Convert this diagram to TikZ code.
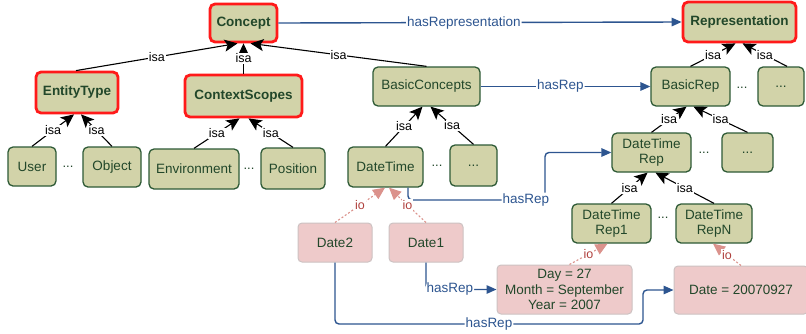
\documentclass[tikz,border=0pt]{standalone}
\usepackage{fontspec}
\setmainfont{Liberation Sans}
\usetikzlibrary{arrows.meta}
\definecolor{boxfill}{HTML}{D2D3A9}
\definecolor{boxline}{HTML}{2E5A36}
\definecolor{txtgreen}{HTML}{22472A}
\definecolor{keyred}{HTML}{FF1A1A}
\definecolor{pinkfill}{HTML}{EECACA}
\definecolor{pinkline}{HTML}{CDC2C2}
\definecolor{repblue}{HTML}{2D5590}
\definecolor{iosalmon}{HTML}{DB928C}
\definecolor{iotext}{HTML}{B0413E}
\tikzset{
  box/.style={draw=boxline, fill=boxfill, line width=1.3pt, rounded corners=5pt,
    text=txtgreen, font=\fontsize{13.5}{15.5}\selectfont, align=center, inner sep=0pt},
  keybox/.style={box, draw=keyred, line width=2.8pt, font=\fontsize{13.5}{15.5}\selectfont\bfseries},
  inst/.style={draw=pinkline, fill=pinkfill, line width=1pt, rounded corners=4pt,
    text=txtgreen, font=\fontsize{13.5}{15.5}\selectfont, align=center, inner sep=0pt},
  dots/.style={text=txtgreen, font=\fontsize{13}{15}\selectfont, inner sep=0pt},
  isa/.style={draw=black, line width=1.1pt, -{Stealth[length=13pt,width=12pt,inset=3pt]}},
  isalbl/.style={fill=white, inner sep=1pt, text=black, font=\fontsize{12.5}{14}\selectfont},
  rep/.style={draw=repblue, line width=1.4pt, rounded corners=4pt, -{Triangle[length=10pt,width=8.5pt]}},
  replbl/.style={fill=white, inner sep=1pt, text=repblue, font=\fontsize{13.5}{15}\selectfont},
  io/.style={draw=iosalmon, line width=1.1pt, dash pattern=on 2pt off 2pt, -{Triangle[length=12pt,width=11pt]}},
  iolbl/.style={fill=white, inner sep=1pt, text=iotext, font=\fontsize{12.5}{14}\selectfont},
}
\begin{document}
\begin{tikzpicture}[x=1pt,y=-1pt]
\useasboundingbox[fill=white] (0,0) rectangle (806,333);
% key nodes
\node[keybox, minimum width=67pt, minimum height=38pt] (concept) at (243.5,23) {Concept};
\node[keybox, minimum width=113pt, minimum height=40pt] (repr) at (739.5,22) {Representation};
\node[keybox, minimum width=82pt, minimum height=41pt] (entity) at (77,92.5) {EntityType};
\node[keybox, minimum width=117pt, minimum height=42pt] (ctx) at (243.5,96) {ContextScopes};
% ordinary nodes
\node[box, minimum width=107pt, minimum height=39pt] (basicC) at (426.5,86.5) {BasicConcepts};
\node[box, minimum width=79pt, minimum height=39pt] (basicR) at (690.5,86.5) {BasicRep};
\node[box, minimum width=46pt, minimum height=39pt] (rdots) at (781,86.5) {...};
\node[box, minimum width=48pt, minimum height=39pt] (user) at (32,166.5) {User};
\node[box, minimum width=58pt, minimum height=40pt] (object) at (112,167) {Object};
\node[box, minimum width=90pt, minimum height=40pt] (env) at (194,169) {Environment};
\node[box, minimum width=64pt, minimum height=41pt] (pos) at (293,168.5) {Position};
\node[box, minimum width=75pt, minimum height=40pt] (datetime) at (385.5,167) {DateTime};
\node[box, minimum width=47pt, minimum height=41pt] (bcdots) at (473.5,165.5) {...};
\node[box, minimum width=79pt, minimum height=39pt] (dtrep) at (651.5,152.5) {DateTime\\Rep};
\node[box, minimum width=51pt, minimum height=39pt] (dtdots) at (747.5,152.5) {...};
\node[box, minimum width=79pt, minimum height=39pt] (rep1) at (611.5,223.5) {DateTime\\Rep1};
\node[box, minimum width=76pt, minimum height=39pt] (repN) at (714,223.5) {DateTime\\RepN};
% instances
\node[inst, minimum width=74pt, minimum height=39pt] (date2) at (335,242.5) {Date2};
\node[inst, minimum width=74pt, minimum height=39pt] (date1) at (426,242.5) {Date1};
\node[inst, minimum width=135pt, minimum height=49pt] (day) at (564.5,289.5) {Day = 27\\Month = September\\Year = 2007};
\node[inst, minimum width=134pt, minimum height=48pt] (datebox) at (741,290) {Date = 20070927};
% dots between siblings
\node[dots] (d1) at (68,167) {...};
\node[dots] (d2) at (249,169) {...};
\node[dots] (d3) at (437,166) {...};
\node[dots] (d4) at (742,88) {...};
\node[dots] (d5) at (704,153) {...};
\node[dots] (d6) at (663,218) {...};
% isa edges
\draw[isa] ([xshift=-1pt]entity.north) -- node[isalbl]{isa} ([xshift=-6pt]concept.south);
\draw[isa] (ctx.north) -- node[isalbl]{isa} (concept.south);
\draw[isa] (basicC.north) -- node[isalbl]{isa} ([xshift=7pt]concept.south);
\draw[isa] (user.north) -- node[isalbl]{isa} ([xshift=-3pt]entity.south);
\draw[isa] (object.north) -- node[isalbl]{isa} ([xshift=4pt]entity.south);
\draw[isa] (env.north) -- node[isalbl]{isa} ([xshift=-4pt]ctx.south);
\draw[isa] (pos.north) -- node[isalbl]{isa} ([xshift=5pt]ctx.south);
\draw[isa] (datetime.north) -- node[isalbl]{isa} ([xshift=-4pt]basicC.south);
\draw[isa] (bcdots.north) -- node[isalbl]{isa} ([xshift=4pt]basicC.south);
\draw[isa] (basicR.north) -- node[isalbl]{isa} ([xshift=-4pt]repr.south);
\draw[isa] ([xshift=6pt]rdots.north) -- node[isalbl]{isa} ([xshift=3pt]repr.south);
\draw[isa] (dtrep.north) -- node[isalbl]{isa} ([xshift=-4pt]basicR.south);
\draw[isa] (dtdots.north) -- node[isalbl]{isa} ([xshift=3pt]basicR.south);
\draw[isa] (rep1.north) -- node[isalbl]{isa} ([xshift=-4pt]dtrep.south);
\draw[isa] (repN.north) -- node[isalbl]{isa} ([xshift=4pt]dtrep.south);
% hasRep edges
\draw[rep] (concept.east) -- node[replbl, pos=0.46]{hasRepresentation} (repr.west);
\draw[rep] (basicC.east) -- node[replbl, pos=0.47]{hasRep} (basicR.west);
\coordinate (c1) at (545,200);
\draw[rep] ([xshift=22.5pt]datetime.south) |- node[replbl, pos=0.93]{hasRep} (c1) |- (dtrep.west);
\draw[rep] (date1.south) |- node[replbl, pos=0.67]{hasRep} (day.west);
\coordinate (c2) at (643,324);
\draw[rep] (date2.south) |- node[replbl, pos=0.75]{hasRep} (c2) |- (datebox.west);
% io edges
\draw[io] (date2.north) -- node[iolbl]{io} ([xshift=-0.5pt]datetime.south);
\draw[io] (date1.north) -- node[iolbl]{io} ([xshift=3.5pt]datetime.south);
\draw[io] ([xshift=5pt]day.north) -- node[iolbl]{io} ([xshift=-4pt]rep1.south);
\draw[io] (datebox.north) -- node[iolbl]{io} ([xshift=-1pt]repN.south);
\end{tikzpicture}
\end{document}
